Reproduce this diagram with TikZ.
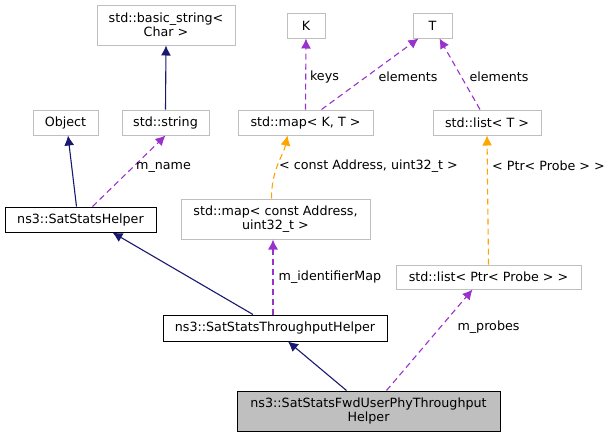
\documentclass[tikz,border=0pt]{standalone}
\usepackage{fontspec}
\setmainfont{DejaVu Sans}
\usepackage{tikz}
\usetikzlibrary{arrows.meta}
\definecolor{boxGray}{RGB}{191,191,191}
\definecolor{inhBlue}{RGB}{25,25,112}
\definecolor{useViolet}{RGB}{153,50,204}
\definecolor{tplOrange}{RGB}{255,165,0}

\begin{document}
\begin{tikzpicture}[x=1pt, y=-1pt,
  font=\fontsize{12.7}{14.5}\selectfont,
  cls/.style={draw=boxGray, line width=1pt, inner sep=0pt, align=center, minimum height=25pt},
  doc/.style={cls, draw=black},
  inherit/.style={inhBlue, line width=1.1pt, -{Latex[length=10pt,width=10pt]}},
  uses/.style={useViolet, line width=1.1pt, dash pattern=on 6pt off 4pt, -{Latex[length=10pt,width=10pt]}},
  tmpl/.style={tplOrange, line width=1.1pt, dash pattern=on 6pt off 4pt, -{Latex[length=10pt,width=10pt]}},
  lbl/.style={inner sep=0pt}]
\useasboundingbox (0,0) rectangle (613,437);
% classes
\node[cls, minimum width=138pt, minimum height=40pt] (bstr) at (166,25) {std::basic\_string<\\Char >};
\node[cls, minimum width=38pt]  (kk)  at (306,25.5) {K};
\node[cls, minimum width=39pt]  (tt)  at (432.5,25.5) {T};
\node[cls, minimum width=65pt]  (obj) at (65.5,122.5) {Object};
\node[cls, minimum width=87pt]  (str) at (165.5,122.5) {std::string};
\node[cls, minimum width=135pt] (mapkt) at (305.5,122.5) {std::map< K, T >};
\node[cls, minimum width=108pt] (listt) at (487,122.5) {std::list< T >};
\node[doc, minimum width=151pt] (helper) at (80.5,219.5) {ns3::SatStatsHelper};
\node[cls, minimum width=189pt, minimum height=40pt] (mapaddr) at (275.5,219) {std::map< const Address,\\uint32\_t >};
\node[cls, minimum width=185pt, minimum height=24pt] (listprobe) at (488.5,277) {std::list< Ptr< Probe > >};
\node[doc, minimum width=224pt, minimum height=26pt] (tput) at (275,328) {ns3::SatStatsThroughputHelper};
\node[doc, fill=boxGray, minimum width=263pt, minimum height=40pt] (fwd) at (368.5,411) {ns3::SatStatsFwdUserPhyThroughput\\Helper};
% inheritance
\draw[inherit] ([xshift=-4]helper.north) -- ([xshift=2.5]obj.south);
\draw[inherit] (str.north) -- (bstr.south);
\draw[inherit] ([xshift=-22]tput.north) -- ([xshift=32]helper.south);
\draw[inherit] ([xshift=-22]fwd.north) -- ([xshift=13]tput.south);
% members
\draw[uses] ([xshift=12]helper.north) -- (str.south);
\draw[uses] (mapkt.north) -- (kk.south);
\draw[uses] ([xshift=16]mapkt.north) -- ([xshift=-14]tt.south);
\draw[uses] ([xshift=-7]listt.north) -- ([xshift=7]tt.south);
\draw[uses] ([xshift=-2]tput.north) -- ([xshift=-2.5]mapaddr.south);
\draw[uses] ([xshift=18]fwd.north) -- ([xshift=-16]listprobe.south);
% templates
\draw[tmpl] ([xshift=-4]mapaddr.north) .. controls +(0,-30) and +(-4,20) .. ([xshift=-18]mapkt.south);
\draw[tmpl] (listprobe.north) -- ([xshift=0]listt.south);
% labels
\node[lbl] (lname) at (163.5,167) {m\_name};
\node[lbl] (lkeys) at (324.5,77) {keys};
\node[lbl] (lelem) at (408,77) {elements};
\node[lbl] (lelemb) at (499,77) {elements};
\node[lbl] (lconst) at (368.5,166) {< const Address, uint32\_t >};
\node[lbl] (lptr) at (548.5,166) {< Ptr< Probe > >};
\node[lbl] (lident) at (330,277) {m\_identifierMap};
\node[lbl] (lprobes) at (488.5,327) {m\_probes};
\end{tikzpicture}
\end{document}
